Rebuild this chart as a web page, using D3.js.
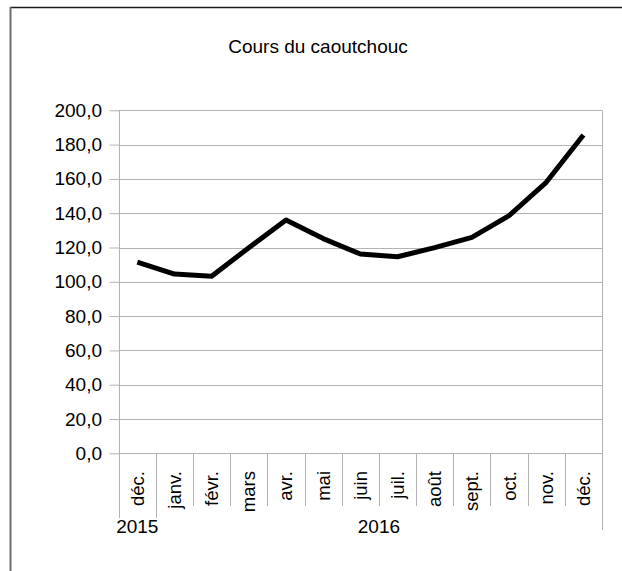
<!DOCTYPE html>
<html>
<head>
<meta charset="utf-8">
<script src="https://cdn.jsdelivr.net/npm/d3@7"></script>
<style>
  body { margin: 0; background: #fff; }
  svg text { font-family: "Liberation Sans", Arial, sans-serif; fill: #000; }
</style>
</head>
<body>
<div id="chart"></div>
<script>
// data
var months = ["déc.", "janv.", "févr.", "mars", "avr.", "mai", "juin", "juil.", "août", "sept.", "oct.", "nov.", "déc."];
var years = ["2015", "2016"];
var yearSpans = [1, 12]; // months per year
var prices = [111.5, 104.5, 103.2, 119.9, 136.0, 125.2, 116.2, 114.6, 119.9, 125.9, 138.6, 158.0, 185.6];
var yTicks = [0, 20, 40, 60, 80, 100, 120, 140, 160, 180, 200];
var title = "Cours du caoutchouc";

var W = 622, H = 571;
var plot = { left: 118.7, right: 602, top: 110.3, bottom: 453.3 };

var svg = d3.select("#chart").append("svg")
    .attr("width", W)
    .attr("height", H);

// outer frame (only top and left visible)
svg.append("line").attr("x1", 10).attr("y1", 7.5).attr("x2", W).attr("y2", 7.5)
    .style("stroke", "#1a1a1a").style("stroke-width", 1.5);
svg.append("line").attr("x1", 10.5).attr("y1", 7).attr("x2", 10.5).attr("y2", H)
    .style("stroke", "#6e6e6e").style("stroke-width", 2);

// scales
var idx = d3.range(months.length);
var x = d3.scaleBand().domain(idx).range([plot.left, plot.right]).padding(0);
var y = d3.scaleLinear().domain([0, 200]).range([plot.bottom, plot.top]);

// title
svg.append("text")
    .attr("x", 318)
    .attr("y", 53)
    .attr("text-anchor", "middle")
    .style("font-size", "19px")
    .text(title);

// grid
svg.append("g").selectAll("line")
    .data(yTicks)
    .enter().append("line")
    .attr("x1", plot.left).attr("x2", plot.right)
    .attr("y1", function(d) { return Math.round(y(d)) + 0.5; })
    .attr("y2", function(d) { return Math.round(y(d)) + 0.5; })
    .style("stroke", "#b3b3b3");

// right border of plot
svg.append("line")
    .attr("x1", Math.round(plot.right) + 0.5).attr("x2", Math.round(plot.right) + 0.5)
    .attr("y1", plot.top).attr("y2", 530)
    .style("stroke", "#b3b3b3");

// y axis
var yaxis = d3.axisLeft(y)
    .tickValues(yTicks)
    .tickSize(10)
    .tickPadding(7.5)
    .tickFormat(function(d) { return d3.format(".1f")(d).replace(".", ","); });

var gy = svg.append("g")
    .attr("transform", "translate(" + (Math.round(plot.left) + 0.5) + ",0)")
    .call(yaxis);
gy.select(".domain").remove();
gy.selectAll(".tick line").style("stroke", "#b3b3b3");
gy.selectAll(".tick text").style("font-size", "19px").attr("fill", "#000");
svg.append("line")
    .attr("x1", Math.round(plot.left) + 0.5).attr("x2", Math.round(plot.left) + 0.5)
    .attr("y1", plot.top).attr("y2", 518)
    .style("stroke", "#b3b3b3");

// x axis: category boundaries
var bounds = d3.range(1, months.length);
var yearBounds = [1];
svg.append("g").selectAll("line")
    .data(bounds)
    .enter().append("line")
    .attr("x1", function(d) { return Math.round(x(d)) + 0.5; })
    .attr("x2", function(d) { return Math.round(x(d)) + 0.5; })
    .attr("y1", plot.bottom)
    .attr("y2", function(d) { return yearBounds.indexOf(d) >= 0 ? 518 : 506; })
    .style("stroke", "#b3b3b3");

// month labels (rotated)
svg.append("g").selectAll("text")
    .data(idx)
    .enter().append("text")
    .attr("transform", function(d) {
        return "translate(" + (x(d) + x.bandwidth() / 2) + ",471) rotate(-90)";
    })
    .attr("dy", "0.35em")
    .attr("text-anchor", "end")
    .style("font-size", "18.5px")
    .text(function(d) { return months[d]; });

// year labels
var start = 0;
years.forEach(function(yr, i) {
    var a = x(start), b = x(start + yearSpans[i] - 1) + x.bandwidth();
    svg.append("text")
        .attr("x", (a + b) / 2)
        .attr("y", 533)
        .attr("text-anchor", "middle")
        .style("font-size", "19px")
        .text(yr);
    start += yearSpans[i];
});

// line
var line = d3.line()
    .x(function(d, i) { return x(i) + x.bandwidth() / 2; })
    .y(function(d) { return y(d); });

svg.append("path")
    .datum(prices)
    .attr("d", line)
    .style("fill", "none")
    .style("stroke", "#000")
    .style("stroke-width", 5)
    .style("stroke-linejoin", "round");
</script>
</body>
</html>
